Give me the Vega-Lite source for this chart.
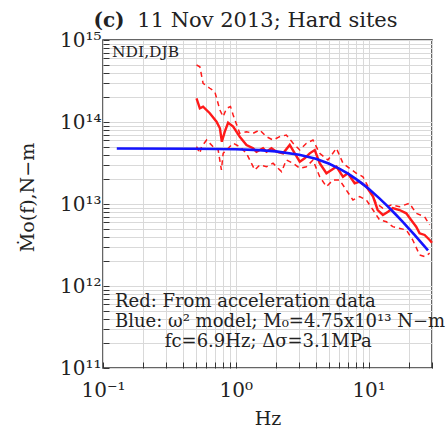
{
  "$schema": "https://vega.github.io/schema/vega-lite/v6.json",
  "width": 329,
  "height": 328,
  "autosize": {"type": "none"},
  "padding": {"left": 103, "top": 40, "right": 16, "bottom": 62},
  "background": "white",
  "config": {
    "view": {"stroke": "#333", "strokeWidth": 1.5},
    "axis": {
      "labelFont": "DejaVu Serif", "labelFontSize": 20, "labelColor": "#222",
      "titleFont": "DejaVu Serif", "titleFontSize": 19, "titleFontWeight": "normal", "titleColor": "#222",
      "tickSize": -6, "tickColor": "#333", "domain": false, "grid": true, "gridColor": "#d9d9d9", "gridWidth": 1,
      "labelOverlap": false, "labelFlush": false
    }
  },
  "datasets": {
    "curves": [
      {"s": "model", "f": 0.127, "M": 4.75e13}, {"s": "model", "f": 0.5, "M": 4.725e13}, {"s": "model", "f": 1, "M": 4.652e13}, {"s": "model", "f": 1.5, "M": 4.535e13}, {"s": "model", "f": 2, "M": 4.382e13}, {"s": "model", "f": 3, "M": 3.995e13}, {"s": "model", "f": 4, "M": 3.555e13}, {"s": "model", "f": 5, "M": 3.115e13}, {"s": "model", "f": 6, "M": 2.705e13}, {"s": "model", "f": 7, "M": 2.341e13}, {"s": "model", "f": 8, "M": 2.026e13}, {"s": "model", "f": 9, "M": 1.759e13}, {"s": "model", "f": 10, "M": 1.532e13}, {"s": "model", "f": 12, "M": 1.18e13}, {"s": "model", "f": 14, "M": 9.28e12}, {"s": "model", "f": 16, "M": 7.45e12}, {"s": "model", "f": 18, "M": 6.09e12}, {"s": "model", "f": 20, "M": 5.05e12}, {"s": "model", "f": 22, "M": 4.25e12}, {"s": "model", "f": 25, "M": 3.36e12}, {"s": "model", "f": 28, "M": 2.72e12},

      {"s": "data", "f": 0.506, "M": 1.945e14}, {"s": "data", "f": 0.536, "M": 1.47e14}, {"s": "data", "f": 0.567, "M": 1.54e14}, {"s": "data", "f": 0.637, "M": 1.28e14}, {"s": "data", "f": 0.716, "M": 1.01e14}, {"s": "data", "f": 0.759, "M": 8.38e13}, {"s": "data", "f": 0.785, "M": 5.75e13}, {"s": "data", "f": 0.826, "M": 7.62e13}, {"s": "data", "f": 0.875, "M": 9.8e13}, {"s": "data", "f": 0.955, "M": 8.77e13}, {"s": "data", "f": 1.071, "M": 6.62e13}, {"s": "data", "f": 1.203, "M": 5.25e13}, {"s": "data", "f": 1.349, "M": 4.78e13}, {"s": "data", "f": 1.431, "M": 4.34e13}, {"s": "data", "f": 1.604, "M": 4.78e13}, {"s": "data", "f": 1.702, "M": 4.34e13}, {"s": "data", "f": 1.855, "M": 4.78e13}, {"s": "data", "f": 2.023, "M": 4.34e13}, {"s": "data", "f": 2.27, "M": 4.15e13}, {"s": "data", "f": 2.547, "M": 5.25e13}, {"s": "data", "f": 2.78, "M": 4.15e13}, {"s": "data", "f": 3.03, "M": 3.28e13}, {"s": "data", "f": 3.3, "M": 3.61e13}, {"s": "data", "f": 3.6, "M": 4.15e13}, {"s": "data", "f": 3.93, "M": 4.56e13}, {"s": "data", "f": 4.28, "M": 3.14e13}, {"s": "data", "f": 4.81, "M": 2.37e13}, {"s": "data", "f": 5.25, "M": 2.6e13}, {"s": "data", "f": 5.72, "M": 2.85e13}, {"s": "data", "f": 6.41, "M": 2.15e13}, {"s": "data", "f": 6.98, "M": 2.37e13}, {"s": "data", "f": 7.85, "M": 1.79e13}, {"s": "data", "f": 8.55, "M": 1.87e13}, {"s": "data", "f": 9.61, "M": 1.63e13}, {"s": "data", "f": 10.8, "M": 1.23e13}, {"s": "data", "f": 11.7, "M": 8.45e12}, {"s": "data", "f": 12.8, "M": 7.35e12}, {"s": "data", "f": 14.0, "M": 8.05e12}, {"s": "data", "f": 15.2, "M": 8.94e12}, {"s": "data", "f": 17.1, "M": 8.45e12}, {"s": "data", "f": 19.2, "M": 7.7e12}, {"s": "data", "f": 20.9, "M": 6.38e12}, {"s": "data", "f": 22.8, "M": 5.29e12}, {"s": "data", "f": 24.2, "M": 4.39e12}, {"s": "data", "f": 26.4, "M": 4.19e12}, {"s": "data", "f": 28.8, "M": 3.64e12}, {"s": "data", "f": 30, "M": 3.37e12},

      {"s": "upper", "f": 0.506, "M": 4.95e14}, {"s": "upper", "f": 0.536, "M": 4.72e14}, {"s": "upper", "f": 0.567, "M": 2.96e14}, {"s": "upper", "f": 0.637, "M": 2.58e14}, {"s": "upper", "f": 0.695, "M": 2.34e14}, {"s": "upper", "f": 0.759, "M": 1.4e14}, {"s": "upper", "f": 0.803, "M": 1.16e14}, {"s": "upper", "f": 0.851, "M": 1.47e14}, {"s": "upper", "f": 0.912, "M": 1.54e14}, {"s": "upper", "f": 0.955, "M": 1.22e14}, {"s": "upper", "f": 1.071, "M": 7.28e13}, {"s": "upper", "f": 1.203, "M": 7.62e13}, {"s": "upper", "f": 1.349, "M": 7.28e13}, {"s": "upper", "f": 1.514, "M": 7.99e13}, {"s": "upper", "f": 1.702, "M": 6.62e13}, {"s": "upper", "f": 1.907, "M": 6.03e13}, {"s": "upper", "f": 2.14, "M": 6.62e13}, {"s": "upper", "f": 2.4, "M": 6.94e13}, {"s": "upper", "f": 2.7, "M": 5.5e13}, {"s": "upper", "f": 3.03, "M": 4.56e13}, {"s": "upper", "f": 3.4, "M": 5.5e13}, {"s": "upper", "f": 3.81, "M": 6.03e13}, {"s": "upper", "f": 4.28, "M": 4.15e13}, {"s": "upper", "f": 4.94, "M": 3.44e13}, {"s": "upper", "f": 5.72, "M": 4.78e13}, {"s": "upper", "f": 6.41, "M": 3.14e13}, {"s": "upper", "f": 7.19, "M": 2.72e13}, {"s": "upper", "f": 8.09, "M": 2.37e13}, {"s": "upper", "f": 9.06, "M": 2.15e13}, {"s": "upper", "f": 10.2, "M": 1.48e13}, {"s": "upper", "f": 11.4, "M": 1.02e13}, {"s": "upper", "f": 12.8, "M": 8.87e12}, {"s": "upper", "f": 14.8, "M": 9.72e12}, {"s": "upper", "f": 17.1, "M": 9.27e12}, {"s": "upper", "f": 20.3, "M": 1.02e13}, {"s": "upper", "f": 22.8, "M": 7.7e12}, {"s": "upper", "f": 26.4, "M": 7.0e12}, {"s": "upper", "f": 28.8, "M": 5.55e12},

      {"s": "lower", "f": 0.506, "M": 5.0e13}, {"s": "lower", "f": 0.536, "M": 4.15e13}, {"s": "lower", "f": 0.552, "M": 5.0e13}, {"s": "lower", "f": 0.603, "M": 6.03e13}, {"s": "lower", "f": 0.675, "M": 5.0e13}, {"s": "lower", "f": 0.736, "M": 4.56e13}, {"s": "lower", "f": 0.779, "M": 2.6e13}, {"s": "lower", "f": 0.803, "M": 4.15e13}, {"s": "lower", "f": 0.851, "M": 4.56e13}, {"s": "lower", "f": 0.955, "M": 5.5e13}, {"s": "lower", "f": 1.071, "M": 5.0e13}, {"s": "lower", "f": 1.203, "M": 4.15e13}, {"s": "lower", "f": 1.389, "M": 2.6e13}, {"s": "lower", "f": 1.514, "M": 2.99e13}, {"s": "lower", "f": 1.702, "M": 2.85e13}, {"s": "lower", "f": 1.907, "M": 3.14e13}, {"s": "lower", "f": 2.21, "M": 2.48e13}, {"s": "lower", "f": 2.4, "M": 3.44e13}, {"s": "lower", "f": 2.7, "M": 3.14e13}, {"s": "lower", "f": 3.03, "M": 2.72e13}, {"s": "lower", "f": 3.4, "M": 2.85e13}, {"s": "lower", "f": 3.81, "M": 3.44e13}, {"s": "lower", "f": 4.28, "M": 2.15e13}, {"s": "lower", "f": 4.81, "M": 1.63e13}, {"s": "lower", "f": 5.39, "M": 1.96e13}, {"s": "lower", "f": 6.05, "M": 1.96e13}, {"s": "lower", "f": 6.79, "M": 1.48e13}, {"s": "lower", "f": 7.62, "M": 1.12e13}, {"s": "lower", "f": 8.55, "M": 1.23e13}, {"s": "lower", "f": 9.61, "M": 1.12e13}, {"s": "lower", "f": 10.8, "M": 8.45e12}, {"s": "lower", "f": 12.1, "M": 6.38e12}, {"s": "lower", "f": 13.6, "M": 6.08e12}, {"s": "lower", "f": 15.2, "M": 5.29e12}, {"s": "lower", "f": 19.2, "M": 4.82e12}, {"s": "lower", "f": 21.5, "M": 3.64e12}, {"s": "lower", "f": 24.2, "M": 2.39e12}, {"s": "lower", "f": 26.4, "M": 2.28e12}, {"s": "lower", "f": 28.8, "M": 2.51e12}
    ],
    "notes": [
      {"f": 0.117, "M": 7.15e14, "t": "NDI,DJB", "size": "s"},
      {"f": 0.123, "M": 6.44e11, "t": "Red: From acceleration data", "size": "m"},
      {"f": 0.123, "M": 3.67e11, "t": "Blue: ω² model; M₀=4.75x10¹³ N−m", "size": "m"},
      {"f": 0.292, "M": 2.08e11, "t": "fc=6.9Hz; Δσ=3.1MPa", "size": "m"}
    ]
  },
  "encoding": {
    "x": {
      "field": "f", "type": "quantitative",
      "scale": {"type": "log", "domain": [0.1, 30], "nice": false},
      "axis": {
        "title": "Hz", "titlePadding": 9, "labelPadding": 18,
        "values": [0.1, 0.2, 0.3, 0.4, 0.5, 0.6, 0.7, 0.8, 0.9, 1, 2, 3, 4, 5, 6, 7, 8, 9, 10, 20, 30],
        "labelExpr": "datum.value == 0.1 ? '10⁻¹' : datum.value == 1 ? '10⁰' : datum.value == 10 ? '10¹' : ''"
      }
    },
    "y": {
      "field": "M", "type": "quantitative",
      "scale": {"type": "log", "domain": [1e11, 1e15], "nice": false},
      "axis": {
        "title": "Ṁo(f),N−m", "titleX": -76, "titleY": 157, "titleAngle": 270, "titleBaseline": "middle", "titleAlign": "center", "labelPadding": 8,
        "values": [1e11, 2e11, 3e11, 4e11, 5e11, 6e11, 7e11, 8e11, 9e11, 1e12, 2e12, 3e12, 4e12, 5e12, 6e12, 7e12, 8e12, 9e12, 1e13, 2e13, 3e13, 4e13, 5e13, 6e13, 7e13, 8e13, 9e13, 1e14, 2e14, 3e14, 4e14, 5e14, 6e14, 7e14, 8e14, 9e14, 1e15],
        "labelExpr": "datum.value == 1e11 ? '10¹¹' : datum.value == 1e12 ? '10¹²' : datum.value == 1e13 ? '10¹³' : datum.value == 1e14 ? '10¹⁴' : datum.value == 1e15 ? '10¹⁵' : ''"
      }
    }
  },
  "layer": [
    {
      "data": {"name": "curves"},
      "transform": [{"filter": "datum.s == 'upper' || datum.s == 'lower'"}],
      "mark": {"type": "line", "color": "#ff1a1a", "strokeWidth": 1.5, "strokeDash": [5, 4]},
      "encoding": {"detail": {"field": "s"}}
    },
    {
      "data": {"name": "curves"},
      "transform": [{"filter": "datum.s == 'data'"}],
      "mark": {"type": "line", "color": "#ff1a1a", "strokeWidth": 2.4}
    },
    {
      "data": {"name": "curves"},
      "transform": [{"filter": "datum.s == 'model'"}],
      "mark": {"type": "line", "color": "#1414ff", "strokeWidth": 2.6}
    },
    {
      "data": {"name": "notes"},
      "mark": {"type": "text", "align": "left", "baseline": "middle", "font": "DejaVu Serif", "color": "#222"},
      "encoding": {
        "text": {"field": "t"},
        "size": {"field": "size", "type": "nominal", "scale": {"domain": ["s", "m"], "range": [15.5, 18]}, "legend": null}
      }
    },
    {
      "data": {"values": [{"f": 0.111, "M": 1.71e15, "t": "(c)"}]},
      "mark": {"type": "text", "align": "center", "baseline": "middle", "font": "DejaVu Serif", "fontSize": 20, "fontWeight": "bold", "color": "#222"},
      "encoding": {"text": {"field": "t"}}
    },
    {
      "data": {"values": [{"f": 1.73, "M": 1.71e15, "t": "11 Nov 2013; Hard sites"}]},
      "mark": {"type": "text", "align": "center", "baseline": "middle", "font": "DejaVu Serif", "fontSize": 21, "fontWeight": "normal", "color": "#222"},
      "encoding": {"text": {"field": "t"}}
    }
  ]
}
